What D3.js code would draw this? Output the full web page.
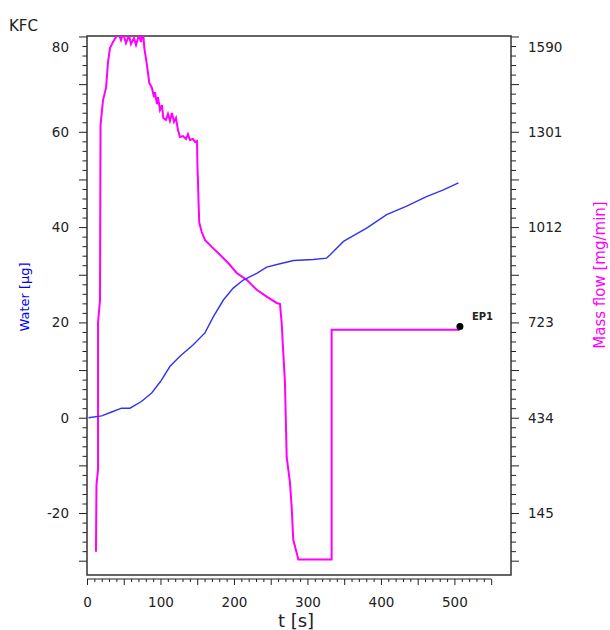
<!DOCTYPE html>
<html>
<head>
<meta charset="utf-8">
<script src="https://cdn.jsdelivr.net/npm/d3@7"></script>
<style>
	body { margin: 0; background: #fff; }
	text { font-family: "DejaVu Sans", Verdana, sans-serif; }
	.axis path, .axis line { stroke: #222; }
	.axis text { fill: #222; font-size: 13.5px; }
</style>
</head>
<body>
<script>
// SVG size
let width = 610,
	height = 630;

// water curve: t [s], water [µg]
const waterT = [2, 20, 33.5, 47, 58.5, 74, 88, 100, 113, 126.5, 144.6, 160.5, 172, 185.6, 199, 212.7, 222, 231, 244.5, 262.6, 281, 308, 326, 331, 349, 380.5, 407.8, 435, 462, 485, 505.5];
const waterV = [0, 0.4, 1.2, 2, 2, 3.4, 5.2, 7.6, 10.8, 12.9, 15.3, 17.8, 21.2, 24.7, 27.2, 28.9, 29.6, 30.3, 31.6, 32.3, 33, 33.2, 33.5, 34.2, 37, 39.8, 42.6, 44.4, 46.4, 47.8, 49.3];

// mass flow curve: t [s], mass flow [mg/min]
const flowT = [12.2, 12.9, 15, 15, 17.7, 18.4, 21.8, 25.9, 28.6, 31.3, 35.4, 39.5, 42.2, 46.3, 49, 53.1, 57.1, 59.9, 63.9, 66.7, 70.7, 73.5, 76.2, 78,
	81.2, 84.8, 88.4, 91.2, 92.5, 95.2, 96.6, 99.3, 102, 103.8, 107.5, 110.2, 112.9, 115.6, 118.4, 121.1, 123.8, 126.5, 130.6, 134.7, 137.4, 140.1, 144.2, 146.9, 149.7,
	150.3, 151, 151.7, 152.8, 156.1, 160.5, 169.7, 181, 192.2, 203.7, 217.3, 230.9, 244.5, 258.1, 262.6,
	264.9, 267.1, 269.4, 271.7, 276.2, 278.5, 280.7, 285.3, 287.5, 332.9, 332.9, 507.5];
const flowV = [28, 231, 277, 722, 791, 1321, 1397, 1434, 1512, 1555, 1573, 1588, 1603, 1579, 1600, 1570, 1594, 1567, 1585, 1564, 1594, 1573, 1609, 1555,
	1509, 1449, 1434, 1406, 1421, 1385, 1406, 1367, 1382, 1343, 1337, 1355, 1334, 1358, 1331, 1343, 1306, 1285, 1288, 1279, 1294, 1276, 1279, 1270, 1273,
	1194, 1155, 1094, 1025, 997, 973, 952, 928, 903, 873, 852, 822, 801, 782, 779,
	722, 631, 540, 316, 237, 164, 64, 25, 4, 4, 701, 701];

// end point marker
const endPoint = {t: 507.5, flow: 711, label: "EP1"};

// tick labels
const tLabels = [0, 100, 200, 300, 400, 500];
const waterLabels = [-20, 0, 20, 40, 60, 80];
const flowLabels = [145, 434, 723, 1012, 1301, 1590];

const waterData = waterT.map((t, i) => ({t: t, v: waterV[i]}));
const flowData = flowT.map((t, i) => ({t: t, v: flowV[i]}));

// plot frame
let margin = {top: 36, right: 99, bottom: 55, left: 87};
let plotW = width - margin.left - margin.right,
	plotH = height - margin.top - margin.bottom;

var svg = d3.select("body").append("svg")
	.attr("width", width)
	.attr("height", height);

// scales
const xScale = d3.scaleLinear()
	.domain([0, 577])
	.range([margin.left, margin.left + plotW]);

const waterScale = d3.scaleLinear()
	.domain([-33, 80.1])
	.range([margin.top + plotH, margin.top]);

// right axis: 289 mg/min per 20 µg, 434 at 0
const flowPerWater = 14.45;
const flowScale = d3.scaleLinear()
	.domain(waterScale.domain().map(w => 434 + w * flowPerWater))
	.range(waterScale.range());

// clip to frame
svg.append("clipPath")
	.attr("id", "clip")
	.append("rect")
	.attr("x", margin.left)
	.attr("y", margin.top)
	.attr("width", plotW)
	.attr("height", plotH);

// x axis (below frame)
const xTicks = d3.range(0, 551, 10);
let xAxis = d3.axisBottom(xScale)
	.tickValues(xTicks)
	.tickSize(6)
	.tickPadding(12)
	.tickFormat(d => tLabels.includes(d) ? d : "");
let gx = svg.append("g")
	.attr("class", "axis")
	.attr("transform", "translate(0," + (margin.top + plotH + 4) + ")")
	.call(xAxis);
gx.select(".domain").attr("d", "M" + xScale(0) + ",0H" + xScale(550));
gx.selectAll(".tick line").attr("y2", d => d % 50 === 0 ? 6 : 3);

// left axis
const wTicks = d3.range(-30, 81, 2);
let yAxis = d3.axisLeft(waterScale)
	.tickValues(wTicks)
	.tickSize(8)
	.tickPadding(10)
	.tickFormat(d => waterLabels.includes(d) ? d : "");
let gy = svg.append("g")
	.attr("class", "axis")
	.attr("transform", "translate(" + margin.left + ",0)")
	.call(yAxis);
gy.select(".domain").remove();
gy.selectAll(".tick line").attr("x2", d => d % 10 === 0 ? -8 : -4.5);
gy.selectAll(".tick text").filter(d => d === 80).attr("dy", "1.1em");

// right axis
const fTicks = wTicks.map(w => 434 + w * flowPerWater);
let y2Axis = d3.axisRight(flowScale)
	.tickValues(fTicks)
	.tickSize(8)
	.tickPadding(9)
	.tickFormat(d => {
		let m = flowLabels.find(f => Math.abs(f - d) < 1);
		return m === undefined ? "" : m;
	});
let gy2 = svg.append("g")
	.attr("class", "axis")
	.attr("transform", "translate(" + (margin.left + plotW) + ",0)")
	.call(y2Axis);
gy2.select(".domain").remove();
gy2.selectAll(".tick line").attr("x2", (d, i) => wTicks[i] % 10 === 0 ? 8 : 5);
gy2.selectAll(".tick text").filter(d => Math.abs(d - 1590) < 1).attr("dy", "1.1em");

// frame
svg.append("rect")
	.attr("x", margin.left)
	.attr("y", margin.top)
	.attr("width", plotW)
	.attr("height", plotH)
	.attr("fill", "none")
	.attr("stroke", "#333")
	.attr("stroke-width", 1.5);

// lines
let lines = svg.append("g").attr("clip-path", "url(#clip)");

let waterLine = d3.line()
	.x(d => xScale(d.t))
	.y(d => waterScale(d.v));

let flowLine = d3.line()
	.x(d => xScale(d.t))
	.y(d => flowScale(d.v));

lines.append("path")
	.datum(flowData)
	.attr("d", flowLine)
	.attr("fill", "none")
	.attr("stroke", "#ff00ff")
	.attr("stroke-width", 2);

lines.append("path")
	.datum(waterData)
	.attr("d", waterLine)
	.attr("fill", "none")
	.attr("stroke", "#3333ee")
	.attr("stroke-width", 1.4);

// end point
svg.append("circle")
	.attr("cx", xScale(endPoint.t))
	.attr("cy", flowScale(endPoint.flow))
	.attr("r", 3.5)
	.attr("fill", "#000");

svg.append("text")
	.attr("x", xScale(endPoint.t) + 12)
	.attr("y", flowScale(endPoint.flow) - 6)
	.attr("font-size", "10px")
	.attr("font-weight", "bold")
	.attr("fill", "#222")
	.text(endPoint.label);

// labels
svg.append("text")
	.attr("x", 9)
	.attr("y", 31)
	.attr("font-size", "15px")
	.attr("fill", "#222")
	.text("KFC");

svg.append("text")
	.attr("x", 296)
	.attr("y", 627)
	.attr("text-anchor", "middle")
	.attr("font-size", "18px")
	.attr("fill", "#222")
	.text("t [s]");

svg.append("text")
	.attr("transform", "translate(29,297) rotate(-90)")
	.attr("text-anchor", "middle")
	.attr("font-size", "13px")
	.attr("fill", "#0000ff")
	.text("Water [µg]");

svg.append("text")
	.attr("transform", "translate(605,275) rotate(-90)")
	.attr("text-anchor", "middle")
	.attr("font-size", "15px")
	.attr("fill", "#ff00ff")
	.text("Mass flow [mg/min]");
</script>
</body>
</html>
